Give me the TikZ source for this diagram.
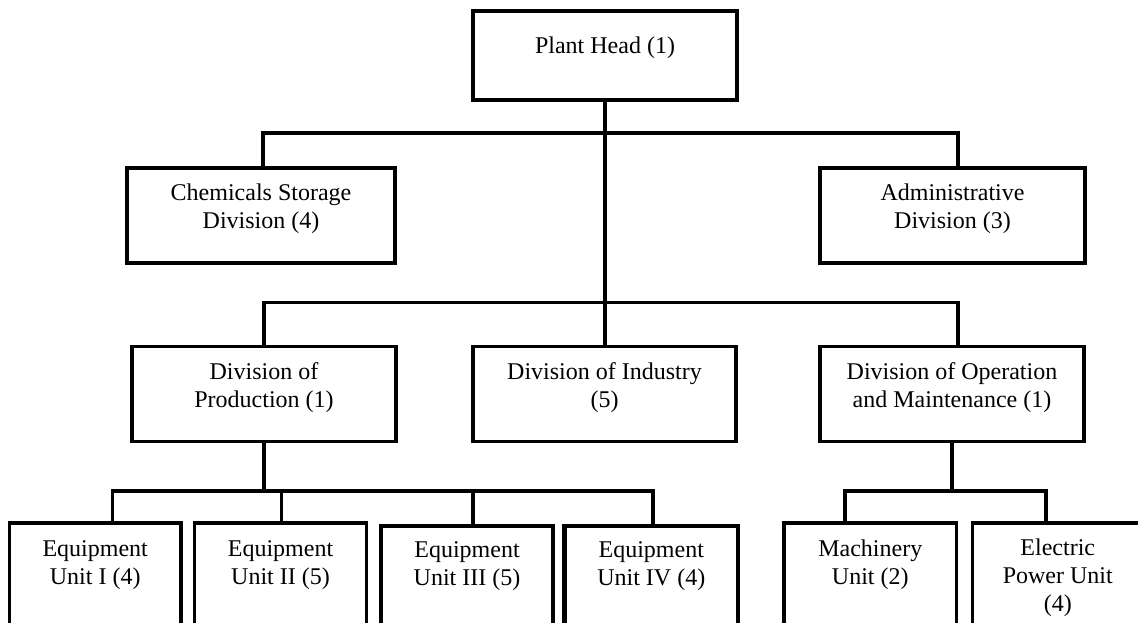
\documentclass[tikz,border=0pt]{standalone}
\usepackage{fontspec}
\setmainfont{Liberation Serif}
\begin{document}
\begin{tikzpicture}[x=0.75pt,y=-0.75pt,
  box/.style={draw, line width=2.6pt, inner sep=0pt},
  bx/.style 2 args={box, minimum width=#1*0.75pt, minimum height=#2*0.75pt},
  thickbox/.style={line width=3.3pt},
  conn/.style={line width=2.4pt},
  txt/.style={font=\fontsize{18}{21}\selectfont, align=center, inner sep=0pt, anchor=base}]
\useasboundingbox (0,0) rectangle (1138,623);
\fill[white] (0,0) rectangle (1138,623);
\clip (0,0) rectangle (1138,623);

% boxes
\node[bx={264}{89}]  (ph) at (605,55.5) {};
\node[bx={268}{95}]  (cs) at (261,215.5) {};
\node[bx={265}{95}]  (ad) at (952.5,215.5) {};
\node[bx={264}{95}]  (pr) at (264,394.2) {};
\node[bx={263}{95}]  (in) at (604.5,394.2) {};
\node[bx={264}{95}]  (om) at (952,394.2) {};
\node[bx={171.6}{140}] (e1) at (95.2,593) {};
\node[bx={172}{140}]   (e2) at (280.5,593) {};
\node[bx={172}{140}, thickbox] (e3) at (467,596) {};
\node[bx={173.4}{140}, thickbox] (e4) at (651.3,596) {};
\node[bx={172.5}{140}] (ma) at (870.25,593) {};
\node[bx={170.5}{140}] (el) at (1057.75,593) {};

% texts (anchor = baseline of last line)
\node[txt] at ([yshift=-44*0.75pt]ph.north) {Plant Head (1)};
\node[txt] at ([yshift=-62*0.75pt]cs.north) {Chemicals Storage\\Division (4)};
\node[txt] at ([yshift=-62*0.75pt]ad.north) {Administrative\\Division (3)};
\node[txt] at ([yshift=-63*0.75pt]pr.north) {Division of\\Production (1)};
\node[txt] at ([yshift=-63*0.75pt]in.north) {Division of Industry\\(5)};
\node[txt] at ([yshift=-63*0.75pt]om.north) {Division of Operation\\and Maintenance (1)};
\node[txt] at ([yshift=-63*0.75pt]e1.north) {Equipment\\Unit I (4)};
\node[txt] at ([yshift=-63*0.75pt]e2.north) {Equipment\\Unit II (5)};
\node[txt] at ([yshift=-62*0.75pt]e3.north) {Equipment\\Unit III (5)};
\node[txt] at ([yshift=-62*0.75pt]e4.north) {Equipment\\Unit IV (4)};
\node[txt] at ([yshift=-63*0.75pt]ma.north) {Machinery\\Unit (2)};
\node[txt] at ([yshift=-90*0.75pt]el.north) {Electric\\Power Unit\\(4)};

% bus coordinates
\coordinate (a1) at (263,133);
\coordinate (a2) at (958,133);
\coordinate (b1) at (264,302.7);
\coordinate (b2) at (958,302.7);
\coordinate (c1) at (112.5,491);
\coordinate (c2) at (653,491);
\coordinate (c3) at (281.6,491);
\coordinate (c4) at (473,491);
\coordinate (d1) at (845,491);
\coordinate (d2) at (1046,491);

% connectors
\draw[conn] (ph.south) -- (ph.south |- b1);
\draw[conn] (a1 |- cs.north) -- (a1) -- (a2) -- (a2 |- ad.north);
\draw[conn] (b1 |- pr.north) -- (b1) -- (b2) -- (b2 |- om.north);
\draw[conn] (ph.south |- in.north) -- (ph.south |- b1);
\draw[conn] (pr.south) -- (pr.south |- c1);
\draw[conn] (c1 |- e1.north) -- (c1) -- (c2) -- (c2 |- e4.north);
\draw[conn] (c3 |- e2.north) -- (c3);
\draw[conn] (c4 |- e3.north) -- (c4);
\draw[conn] (om.south) -- (om.south |- d1);
\draw[conn] (d1 |- ma.north) -- (d1) -- (d2) -- (d2 |- el.north);
\end{tikzpicture}
\end{document}
